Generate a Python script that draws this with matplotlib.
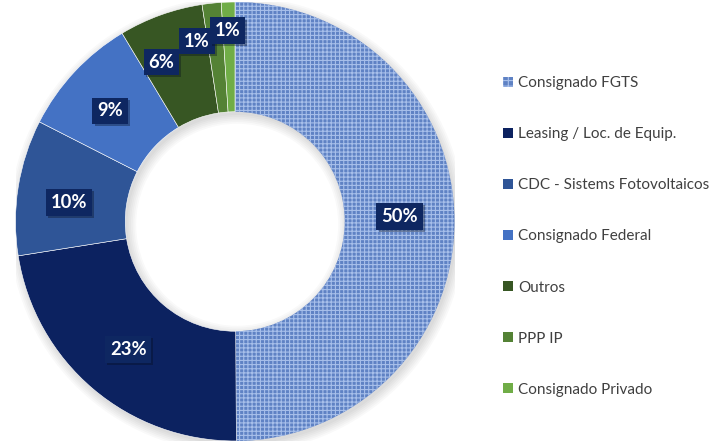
import matplotlib
matplotlib.use('Agg')
import matplotlib.pyplot as plt
import matplotlib.patches as mpatches
import matplotlib.patheffects as pe
import numpy as np

plt.rcParams['font.family'] = ['Lato', 'DejaVu Sans']
plt.rcParams['hatch.linewidth'] = 0.8

categories = ['Consignado FGTS', 'Leasing / Loc. de Equip.', 'CDC - Sistems Fotovoltaicos',
              'Consignado Federal', 'Outros', 'PPP IP', 'Consignado Privado']
shares = [49.9, 22.6, 10.0, 8.9, 6.2, 1.4, 1.0]
colors = ['#5F82C4', '#0C2260', '#2F5597', '#4472C4', '#375623', '#548235', '#70AD47']

# label placement tweaks (radius, angle shift in degrees) so the small ones don't collide
label_r = [0.75, 0.76, 0.76, 0.76, 0.80, 0.84, 0.87]
label_shift = [1.5, 0.5, 2.5, 1.5, 5.0, 5.8, 0.5]

fig = plt.figure(figsize=(7.24, 4.43), dpi=100)
ax = fig.add_axes([15.5 / 724, 2 / 443, 439 / 724, 439 / 443])

# soft shadow around the ring
for k in range(6):
    ax.add_patch(mpatches.Wedge((0.01, -0.015), 1.0 + 0.008 * k, 0, 360, width=0.5 + 0.016 * k,
                                facecolor='#000000', alpha=0.025, lw=0))

wedges, _ = ax.pie(shares, colors=colors, startangle=90, counterclock=False, radius=1.0,
                   wedgeprops=dict(width=0.5, edgecolor='white', linewidth=0.4))
ax.set_xlim(-1, 1)
ax.set_ylim(-1, 1)
ax.set_aspect('equal')
ax.axis('off')

# woven texture on the FGTS slice
wedges[0].set_hatch('++++')
wedges[0].set_edgecolor('#A7BFEA')
wedges[0].set_linewidth(0)

for w, v, r, s in zip(wedges, shares, label_r, label_shift):
    ang = np.deg2rad((w.theta1 + w.theta2) / 2 + s)
    t = ax.text(r * np.cos(ang), r * np.sin(ang), '%.0f%%' % v, ha='center', va='center',
                color='white', fontsize=13.2, fontweight='bold',
                bbox=dict(boxstyle='square,pad=0.26', facecolor='#0E2761', edgecolor='none'))
    t.get_bbox_patch().set_path_effects([pe.SimplePatchShadow(offset=(1.5, -1.5), alpha=0.35),
                                         pe.Normal()])

handles = []
for i, c in enumerate(colors):
    if i == 0:
        h = mpatches.Patch(facecolor=c, edgecolor='#A7BFEA', hatch='+++', linewidth=0)
    else:
        h = mpatches.Patch(facecolor=c, edgecolor='none')
    handles.append(h)

leg = fig.legend(handles, categories, loc='upper left', bbox_to_anchor=(503 / 724, 1 - 76 / 443),
                 frameon=False, fontsize=11, labelspacing=2.43, handlelength=0.65,
                 handleheight=0.65, handletextpad=0.35, labelcolor='#404040',
                 borderaxespad=0, borderpad=0)

fig.savefig('out.png', dpi=100)
